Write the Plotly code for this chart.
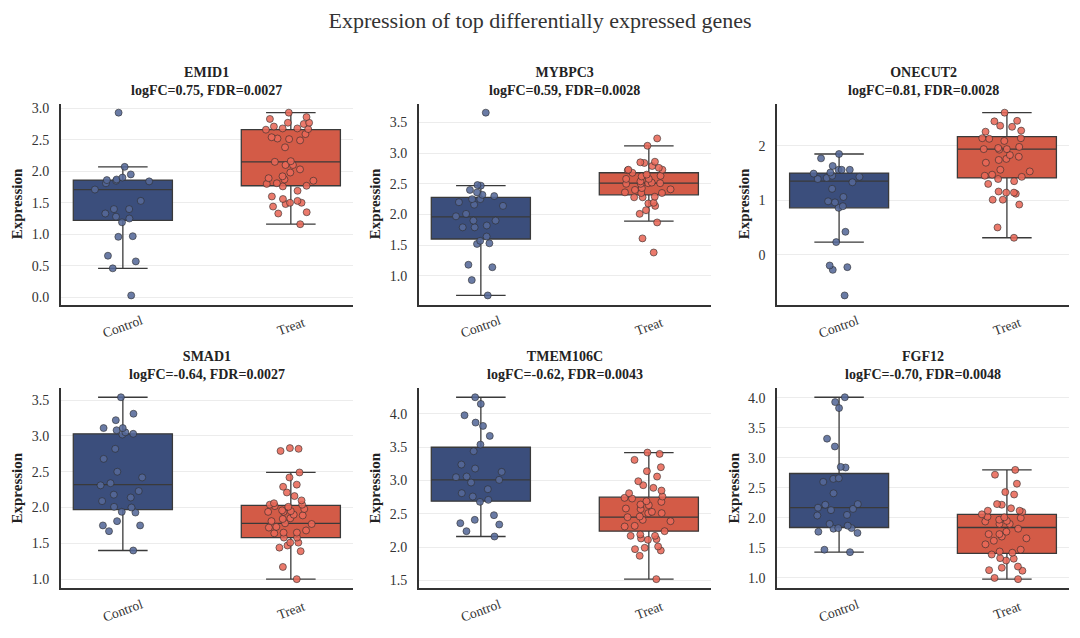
import plotly.graph_objects as go

# genes, stats shown in the panel titles
genes = ["EMID1", "MYBPC3", "ONECUT2", "SMAD1", "TMEM106C", "FGF12"]
logfc = [0.75, 0.59, 0.81, -0.64, -0.62, -0.70]
fdr = [0.0027, 0.0028, 0.0028, 0.0027, 0.0043, 0.0048]
groups = ["Control", "Treat"]
y_dtick = [0.5, 0.5, 1, 0.5, 0.5, 0.5]
y_format = [".1f", ".1f", "d", ".1f", ".1f", ".1f"]

# box statistics (q1, median, q3, lower whisker, upper whisker)
control_q1 = [1.22, 1.60, 0.86, 1.97, 2.69, 1.84]
control_median = [1.71, 1.96, 1.35, 2.32, 3.01, 2.17]
control_q3 = [1.86, 2.28, 1.50, 3.03, 3.50, 2.74]
control_low = [0.46, 0.68, 0.23, 1.40, 2.16, 1.43]
control_high = [2.07, 2.47, 1.85, 3.54, 4.25, 4.01]

treat_q1 = [1.77, 2.32, 1.41, 1.58, 2.24, 1.41]
treat_median = [2.15, 2.51, 1.94, 1.78, 2.45, 1.84]
treat_q3 = [2.66, 2.68, 2.17, 2.03, 2.75, 2.06]
treat_low = [1.16, 1.89, 0.31, 1.00, 1.52, 0.98]
treat_high = [2.93, 3.12, 2.61, 2.49, 3.42, 2.80]

# sample points
emid1_control = [2.93, 2.07, 1.95, 1.90, 1.85, 1.86, 1.87, 1.84, 1.81, 1.71, 1.53, 1.40,
                 1.40, 1.33, 1.28, 1.25, 1.19, 0.96, 0.97, 0.66, 0.57, 0.46, 0.03]
emid1_treat = [2.93, 2.86, 2.83, 2.77, 2.77, 2.75, 2.71, 2.68, 2.67, 2.68, 2.66, 2.59, 2.54,
               2.52, 2.51, 2.49, 2.38, 2.16, 2.15, 2.10, 2.10, 2.03, 1.98, 1.92, 1.89, 1.87,
               1.85, 1.80, 1.81, 1.76, 1.77, 1.69, 1.60, 1.56, 1.50, 1.53, 1.50, 1.48, 1.44,
               1.33, 1.35, 1.16]
mybpc3_control = [3.66, 2.47, 2.48, 2.40, 2.36, 2.32, 2.30, 2.25, 2.25, 2.20, 2.14, 2.16,
                  2.01, 1.97, 1.90, 1.90, 1.79, 1.82, 1.79, 1.64, 1.57, 1.53, 1.52, 1.18,
                  1.14, 0.93, 0.68]
mybpc3_treat = [3.24, 3.12, 2.85, 2.86, 2.84, 2.79, 2.76, 2.72, 2.73, 2.73, 2.68, 2.65, 2.63,
                2.62, 2.58, 2.58, 2.50, 2.51, 2.54, 2.50, 2.51, 2.52, 2.41, 2.43, 2.40, 2.36,
                2.35, 2.35, 2.28, 2.29, 2.28, 2.18, 2.19, 2.14, 2.07, 2.01, 1.87, 1.61, 1.38]
onecut2_control = [1.85, 1.77, 1.63, 1.56, 1.56, 1.56, 1.51, 1.49, 1.45, 1.43, 1.41, 1.39,
                   1.33, 1.21, 1.06, 0.96, 0.98, 0.89, 0.86, 0.42, 0.23, -0.20, -0.23, -0.28,
                   -0.75]
onecut2_treat = [2.61, 2.46, 2.45, 2.37, 2.35, 2.28, 2.26, 2.14, 2.13, 2.14, 2.09, 1.94, 1.96,
                 1.94, 1.98, 1.93, 1.83, 1.80, 1.76, 1.74, 1.69, 1.53, 1.56, 1.47, 1.45, 1.43,
                 1.39, 1.30, 1.35, 1.16, 1.14, 1.12, 1.14, 1.01, 1.01, 0.92, 0.50, 0.31]
smad1_control = [3.54, 3.31, 3.22, 3.11, 3.11, 3.08, 3.05, 3.03, 3.02, 2.82, 2.68, 2.50, 2.42,
                 2.34, 2.31, 2.23, 2.18, 2.14, 2.09, 2.01, 2.00, 1.93, 1.94, 1.81, 1.75, 1.75,
                 1.67, 1.40]
smad1_treat = [2.82, 2.83, 2.79, 2.49, 2.42, 2.32, 2.29, 2.21, 2.16, 2.10, 2.06, 2.04, 2.04,
               2.02, 2.01, 1.98, 1.96, 1.94, 1.95, 1.94, 1.90, 1.89, 1.85, 1.84, 1.81, 1.78,
               1.77, 1.72, 1.73, 1.68, 1.65, 1.65, 1.64, 1.58, 1.58, 1.51, 1.51, 1.47, 1.44,
               1.39, 1.17, 1.00]
tmem106c_control = [4.25, 4.15, 3.98, 3.87, 3.82, 3.67, 3.54, 3.44, 3.24, 3.18, 3.13, 3.06,
                    3.05, 3.01, 2.97, 2.87, 2.81, 2.76, 2.68, 2.71, 2.48, 2.41, 2.36, 2.34,
                    2.24, 2.16]
tmem106c_treat = [3.40, 3.42, 3.31, 3.20, 3.14, 3.06, 2.99, 2.93, 2.89, 2.85, 2.81, 2.73, 2.76,
                  2.74, 2.68, 2.69, 2.64, 2.63, 2.58, 2.57, 2.53, 2.51, 2.51, 2.45, 2.46, 2.41,
                  2.39, 2.32, 2.31, 2.24, 2.19, 2.17, 2.17, 2.13, 2.12, 2.11, 2.01, 1.99, 1.97,
                  1.95, 1.87, 1.52]
fgf12_control = [4.01, 3.93, 3.83, 3.32, 3.19, 2.85, 2.84, 2.66, 2.65, 2.60, 2.41, 2.22, 2.23,
                 2.17, 2.13, 2.15, 2.05, 2.04, 1.90, 1.87, 1.83, 1.82, 1.83, 1.77, 1.75, 1.47,
                 1.43]
fgf12_treat = [2.80, 2.72, 2.57, 2.39, 2.43, 2.23, 2.22, 2.16, 2.12, 2.10, 2.12, 2.06, 2.01,
               2.00, 2.02, 1.94, 1.95, 1.90, 1.90, 1.97, 1.82, 1.77, 1.73, 1.73, 1.66, 1.69,
               1.62, 1.56, 1.47, 1.44, 1.42, 1.39, 1.33, 1.32, 1.29, 1.19, 1.17, 1.12, 1.13,
               1.00, 0.98]

control_points = [emid1_control, mybpc3_control, onecut2_control,
                  smad1_control, tmem106c_control, fgf12_control]
treat_points = [emid1_treat, mybpc3_treat, onecut2_treat,
                smad1_treat, tmem106c_treat, fgf12_treat]

W, H = 1080, 638
FONT = "Liberation Serif"
BOX_COLORS = ["#3b4e7c", "#d35b47"]
DOT_COLORS = ["rgba(85,105,152,0.88)", "rgba(232,104,88,0.88)"]
BOX_W = 0.59

col_px = [(60.7, 353), (418.7, 711), (777, 1069)]
row_px = [(102, 304), (388, 589)]

fig = go.Figure()

for i, gene in enumerate(genes):
    r, c = divmod(i, 3)
    n = i + 1
    xa = "x" if n == 1 else f"x{n}"
    ya = "y" if n == 1 else f"y{n}"

    stats = [
        (control_q1[i], control_median[i], control_q3[i], control_low[i], control_high[i]),
        (treat_q1[i], treat_median[i], treat_q3[i], treat_low[i], treat_high[i]),
    ]
    for g, (q1, med, q3, lo, hi) in enumerate(stats):
        fig.add_trace(go.Box(
            x=[groups[g]], q1=[q1], median=[med], q3=[q3], lowerfence=[lo], upperfence=[hi],
            fillcolor=BOX_COLORS[g], line=dict(color="#3a3a3a", width=1.3),
            width=BOX_W, whiskerwidth=0.5, boxpoints=False, showlegend=False,
            xaxis=xa, yaxis=ya))

    for g, pts in enumerate([control_points[i], treat_points[i]]):
        fig.add_trace(go.Box(
            x=[groups[g]] * len(pts), y=pts, boxpoints="all", jitter=0.6, pointpos=0,
            fillcolor="rgba(0,0,0,0)", line=dict(color="rgba(0,0,0,0)", width=0),
            width=BOX_W,
            marker=dict(size=7, color=DOT_COLORS[g], line=dict(color="#2b2b2b", width=0.6)),
            showlegend=False, xaxis=xa, yaxis=ya))

    allv = control_points[i] + treat_points[i]
    lo, hi = min(allv), max(allv)
    pad = 0.05 * (hi - lo)

    x0, x1 = col_px[c]
    y0, y1 = row_px[r]
    fig.update_layout(**{
        ("xaxis" if n == 1 else f"xaxis{n}"): dict(
            domain=[x0 / W, x1 / W], anchor=ya, type="category",
            categoryorder="array", categoryarray=groups, range=[-0.37, 1.37],
            showline=True, linecolor="#333333", linewidth=1.5, showgrid=False,
            showticklabels=False, ticks=""),
        ("yaxis" if n == 1 else f"yaxis{n}"): dict(
            domain=[1 - y1 / H, 1 - y0 / H], anchor=xa, range=[lo - pad, hi + pad],
            dtick=y_dtick[i], tickformat=y_format[i],
            showline=True, linecolor="#333333", linewidth=1.5,
            showgrid=True, gridcolor="#ececec", gridwidth=1, zeroline=False,
            ticks="outside", ticklen=7, tickcolor="rgba(0,0,0,0)",
            tickfont=dict(family=FONT, size=14, color="#333333"),
            title=dict(text="<b>Expression</b>", standoff=5,
                       font=dict(family=FONT, size=15, color="#222222"))),
    })

    # rotated category labels, centred under each box
    for g in groups:
        fig.add_annotation(
            text=g, xref=xa, yref=f"{ya} domain", x=g, y=0,
            xanchor="center", yanchor="middle", yshift=-22, textangle=-20,
            showarrow=False, font=dict(family=FONT, size=13.5, color="#333333"))

    fig.add_annotation(
        text=f"<b>{gene}</b><br><b>logFC={logfc[i]:.2f}, FDR={fdr[i]:.4f}</b>",
        xref="paper", yref="paper", x=(x0 + x1) / 2 / W, y=1 - (y0 - 4) / H,
        xanchor="center", yanchor="bottom", showarrow=False, align="center",
        font=dict(family=FONT, size=14, color="#222222"))

fig.update_layout(
    width=W, height=H,
    margin=dict(l=0, r=0, t=0, b=0),
    paper_bgcolor="white", plot_bgcolor="white",
    boxmode="overlay",
    font=dict(family=FONT, color="#333333"),
    title=dict(text="Expression of top differentially expressed genes",
               x=0.5, xanchor="center", y=1 - 20 / H, yanchor="middle",
               font=dict(family=FONT, size=22, color="#333333")),
)

fig.write_html("out.html", config={"displayModeBar": False},
               post_script="document.body.style.margin='0';")
